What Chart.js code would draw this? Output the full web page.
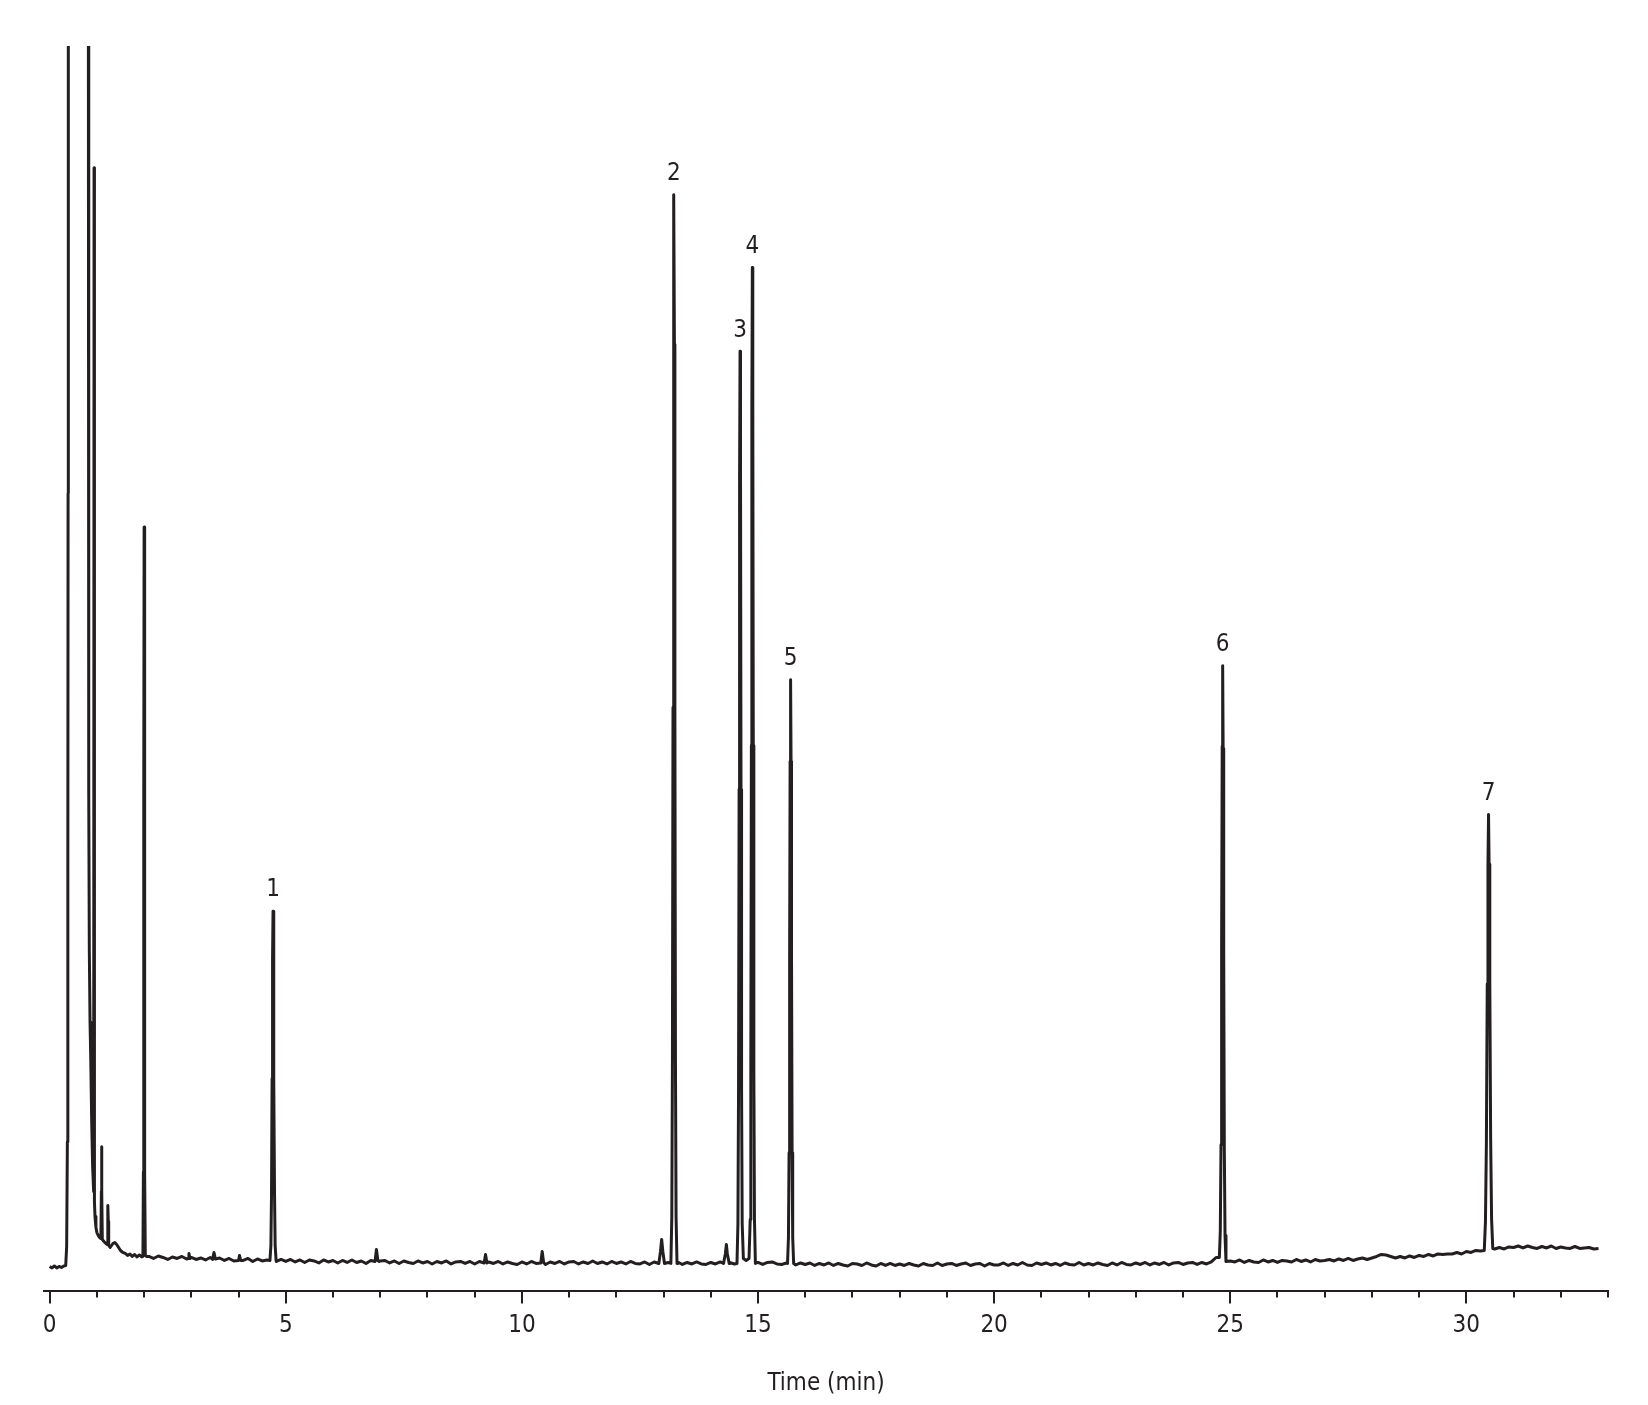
<!DOCTYPE html>
<html>
<head>
<meta charset="utf-8">
<script src="https://cdn.jsdelivr.net/npm/chart.js@4.4.1/dist/chart.umd.min.js"></script>
<style>
  html, body { margin: 0; padding: 0; background: #fff; }
  #wrap { width: 1648px; height: 1405px; }
</style>
</head>
<body>
<div id="wrap"><canvas id="chrom"></canvas></div>
<script>
// x axis labels (minutes)
const tickValues = [0, 5, 10, 15, 20, 25, 30];

// labelled peaks: retention time (min) and apex height (detector units)
const peakLabel = ['1', '2', '3', '4', '5', '6', '7'];
const peakTime = [4.73, 13.22, 14.62, 14.88, 15.69, 24.84, 30.47];
const peakTop = [381, 1099, 942, 1026, 613, 627, 478];

// solvent front and early peaks, 0 - 2.05 min
const earlyTrace = [
  [0, 25], [0.05, 23.5], [0.1, 25.5], [0.15, 23.5], [0.2, 25], [0.25, 24], [0.3, 25.5], [0.34, 26],
  [0.36, 45], [0.375, 150], [0.385, 420], [0.39, 800], [0.395, 1600],
  [0.81, 1600], [0.82, 1250], [0.825, 800], [0.83, 500], [0.84, 340], [0.855, 270], [0.87, 234],
  [0.89, 170], [0.91, 125], [0.932, 100], [0.94, 1126], [0.948, 90], [0.96, 75], [0.98, 64],
  [1.0, 59], [1.03, 56], [1.06, 54], [1.085, 53], [1.095, 100], [1.1, 145], [1.105, 100], [1.115, 52],
  [1.15, 50], [1.19, 48], [1.22, 47], [1.228, 70], [1.235, 86], [1.242, 70], [1.25, 46],
  [1.28, 44], [1.31, 46], [1.34, 48], [1.38, 49], [1.42, 47], [1.46, 44], [1.5, 41], [1.55, 39],
  [1.6, 38], [1.65, 36], [1.7, 37.5], [1.75, 35], [1.8, 37], [1.85, 34.5], [1.9, 36.5], [1.95, 34.5],
  [1.975, 35], [1.985, 120], [1.993, 500], [2.0, 766], [2.007, 500], [2.015, 120], [2.025, 36], [2.05, 35]
];

// labelled peak profiles [time, signal]
const peak1Shape = [
  [4.665, 31], [4.685, 46], [4.698, 97], [4.71, 213], [4.72, 332], [4.73, 381],
  [4.74, 332], [4.75, 213], [4.762, 97], [4.775, 46], [4.795, 31]
];
const peak2Shape = [
  [13.155, 28], [13.175, 75], [13.188, 231], [13.2, 585], [13.21, 949], [13.22, 1099],
  [13.23, 949], [13.24, 585], [13.252, 231], [13.265, 75], [13.285, 28]
];
const peak34Shape = [
  [14.555, 28], [14.575, 68], [14.588, 202], [14.6, 503], [14.61, 814], [14.62, 942],
  [14.63, 814], [14.64, 503], [14.652, 202], [14.665, 68], [14.69, 33], [14.75, 31],
  [14.81, 33], [14.835, 72], [14.848, 218], [14.86, 547], [14.87, 886], [14.88, 1026],
  [14.89, 886], [14.9, 547], [14.912, 218], [14.925, 72], [14.945, 28]
];
const peak5Shape = [
  [15.625, 28], [15.645, 54], [15.658, 139], [15.67, 332], [15.68, 531], [15.69, 613],
  [15.7, 531], [15.71, 332], [15.722, 139], [15.735, 54], [15.755, 28]
];
const peak6Shape = [
  [24.77, 34], [24.79, 60], [24.805, 147], [24.818, 343], [24.83, 546], [24.84, 627],
  [24.85, 544], [24.862, 340], [24.875, 143], [24.89, 56], [24.91, 30]
];
const peak7Shape = [
  [30.38, 41], [30.405, 70], [30.425, 150], [30.443, 308], [30.458, 426], [30.47, 478],
  [30.482, 428], [30.497, 310], [30.515, 152], [30.535, 72], [30.56, 43]
];

// small unlabelled bumps on the baseline
const minorBumps = [
  [[2.93, 33], [2.95, 38], [2.97, 33]],
  [[3.45, 32], [3.48, 39], [3.51, 32.5]],
  [[4.0, 31], [4.02, 36], [4.045, 31]],
  [[6.89, 30], [6.92, 42], [6.95, 31], [6.98, 30]],
  [[9.2, 28.5], [9.23, 37], [9.26, 28.5]],
  [[10.4, 28.5], [10.43, 40], [10.46, 29]],
  [[12.9, 28], [12.935, 40], [12.96, 52], [12.985, 40], [13.02, 28]],
  [[14.27, 28], [14.31, 38], [14.33, 47], [14.35, 38], [14.39, 28]]
];

// baseline read every 0.1 min from 2.1 min on
const baselineStart = 2.1;
const baselineStep = 0.1;
const baselineSignal = [
  35, 33, 35.5, 34, 32, 34.5, 33, 35, 32.5, 34,
  32, 33.5, 31.5, 34, 31.5, 33.5, 31, 33, 30.5, 32.5,
  31, 33, 30, 32.5, 30.5, 31.5, 32, 30, 32, 30,
  32, 29.5, 31.5, 29, 31.5, 30.5, 28.5, 31.5, 29.5, 31,
  28.5, 31, 29, 31.5, 29, 30.5, 28, 31, 28.5, 30.5,
  31, 28.5, 30.5, 28, 30.5, 29, 28, 30.5, 28.5, 30,
  27.5, 30, 28.5, 30.5, 27.5, 29.5, 30, 28, 30, 27.5,
  30, 27.5, 29.5, 28, 30, 27.5, 29.5, 28, 27, 29.5,
  27.5, 30, 28, 29.5, 27, 29.5, 28, 30, 27.5, 29.5,
  30, 27.5, 29.5, 28, 30.5, 28, 29.5, 27.5, 30, 28,
  29.5, 27.5, 30, 28, 27.5, 29.5, 27, 29.5, 28, 27.5,
  29, 27.5, 29.5, 27, 29, 27.5, 29.5, 27.5, 27, 29,
  27.5, 29.5, 27, 29, 27.5, 26.5, 29, 29.5, 27.5, 29,
  27, 29, 29.5, 27.5, 27, 28.5, 29, 26.5, 28.5, 27,
  28.5, 26, 28, 26.5, 28.5, 26, 28, 26.5, 25.5, 28,
  27.5, 26, 28.5, 26.5, 25.5, 28, 26, 28, 26, 27.5,
  26, 28, 26.5, 25.5, 28, 26.5, 26, 28.5, 26, 27.5,
  28, 26, 27.5, 28.5, 26, 27.5, 28, 25.5, 28, 26.5,
  26.5, 28.5, 26, 28, 26.5, 29, 26.5, 26, 28.5, 27,
  28.5, 26.5, 28, 26, 28.5, 27, 26.5, 29, 26.5, 28,
  26.5, 28.5, 27, 26, 28.5, 26.5, 29, 27, 26.5, 28.5,
  27, 29, 26.5, 28.5, 27, 29, 26.5, 28.5, 29, 27,
  28.5, 29, 27, 29, 27.5, 29.5, 34, 34.5, 33.5, 30.5,
  29.5, 31.5, 29, 31, 29.5, 29, 31.5, 29.5, 31, 29,
  31, 30.5, 29.5, 32, 30, 31.5, 29.5, 32, 30.5, 31,
  32, 30.5, 32.5, 31, 33, 31, 32.5, 33.5, 32, 33.5,
  35, 37, 36.5, 35, 33.5, 35, 33.5, 35.5, 34, 36,
  35, 37, 35.5, 37.5, 37, 37.5, 37.5, 39, 37.5, 40,
  39, 41, 40.5, 42, 42, 42.5, 44, 42.5, 44.5, 44,
  45.5, 43.5, 45.5, 44, 43, 45, 43.5, 45.5, 43, 44.5,
  43.5, 43, 45, 43, 43.5, 44, 42.5, 43
];

const ink = '#231f20';
const fontFamily = "'Liberation Sans Narrow', 'DejaVu Sans Condensed', 'Liberation Sans', sans-serif";

// Put the pieces together into one trace
const segments = [earlyTrace, peak1Shape, peak2Shape, peak34Shape, peak5Shape, peak6Shape, peak7Shape, ...minorBumps];
const windows = segments.map(s => [s[0][0], s[s.length - 1][0]]);
const baseline = baselineSignal
  .map((v, i) => [+(baselineStart + i * baselineStep).toFixed(2), v])
  .filter(([t]) => !windows.some(([a, b]) => t >= a && t <= b));
const trace = segments.flat().concat(baseline)
  .sort((p, q) => p[0] - q[0])
  .map(([x, y]) => ({ x, y }));

// minute ticks under the axis (long every 5 min) and the peak numbers
const chromDecor = {
  id: 'chromDecor',
  afterDatasetsDraw(chart) {
    const ctx = chart.ctx;
    const xs = chart.scales.x, ys = chart.scales.y;
    ctx.save();
    ctx.fillStyle = ink;
    ctx.font = '24px ' + fontFamily;
    ctx.textAlign = 'center';
    ctx.textBaseline = 'middle';
    peakLabel.forEach((lab, i) => {
      ctx.fillText(lab, xs.getPixelForValue(peakTime[i]), ys.getPixelForValue(peakTop[i]) - 21);
    });
    ctx.restore();
  },
  afterDraw(chart) {
    const ctx = chart.ctx;
    const xs = chart.scales.x;
    const y0 = chart.chartArea.bottom;
    ctx.save();
    ctx.strokeStyle = ink;
    ctx.lineWidth = 2;
    for (let v = 0; v <= 33; v++) {
      const px = Math.round(xs.getPixelForValue(v));
      ctx.beginPath();
      ctx.moveTo(px, y0 - 1);
      ctx.lineTo(px, y0 + (v % 5 === 0 ? 12 : 6));
      ctx.stroke();
    }
    ctx.restore();
  }
};

const ctx = document.getElementById('chrom').getContext('2d');
const chromChart = new Chart(ctx, {
  type: 'line',
  data: {
    datasets: [{
      data: trace,
      borderColor: ink,
      borderWidth: 3,
      borderJoinStyle: 'round',
      pointRadius: 0,
      tension: 0,
      fill: false
    }]
  },
  options: {
    responsive: true,
    maintainAspectRatio: false,
    animation: false,
    layout: { padding: { left: 44, right: 40, top: 46, bottom: 0 } },
    plugins: {
      legend: { display: false },
      tooltip: { enabled: false }
    },
    scales: {
      x: {
        type: 'linear',
        min: -0.12,
        max: 33,
        afterBuildTicks: scale => { scale.ticks = tickValues.map(v => ({ value: v })); },
        grid: { display: false, drawTicks: false },
        border: { display: true, color: ink, width: 2 },
        ticks: {
          padding: 20,
          color: ink,
          maxRotation: 0,
          autoSkip: false,
          font: { family: fontFamily, size: 24 }
        },
        title: {
          display: true,
          text: 'Time (min)',
          color: ink,
          font: { family: fontFamily, size: 24 },
          padding: { top: 9, bottom: 7 }
        }
      },
      y: { display: false, min: 0, max: 1248 }
    }
  },
  plugins: [chromDecor]
});
</script>
</body>
</html>
